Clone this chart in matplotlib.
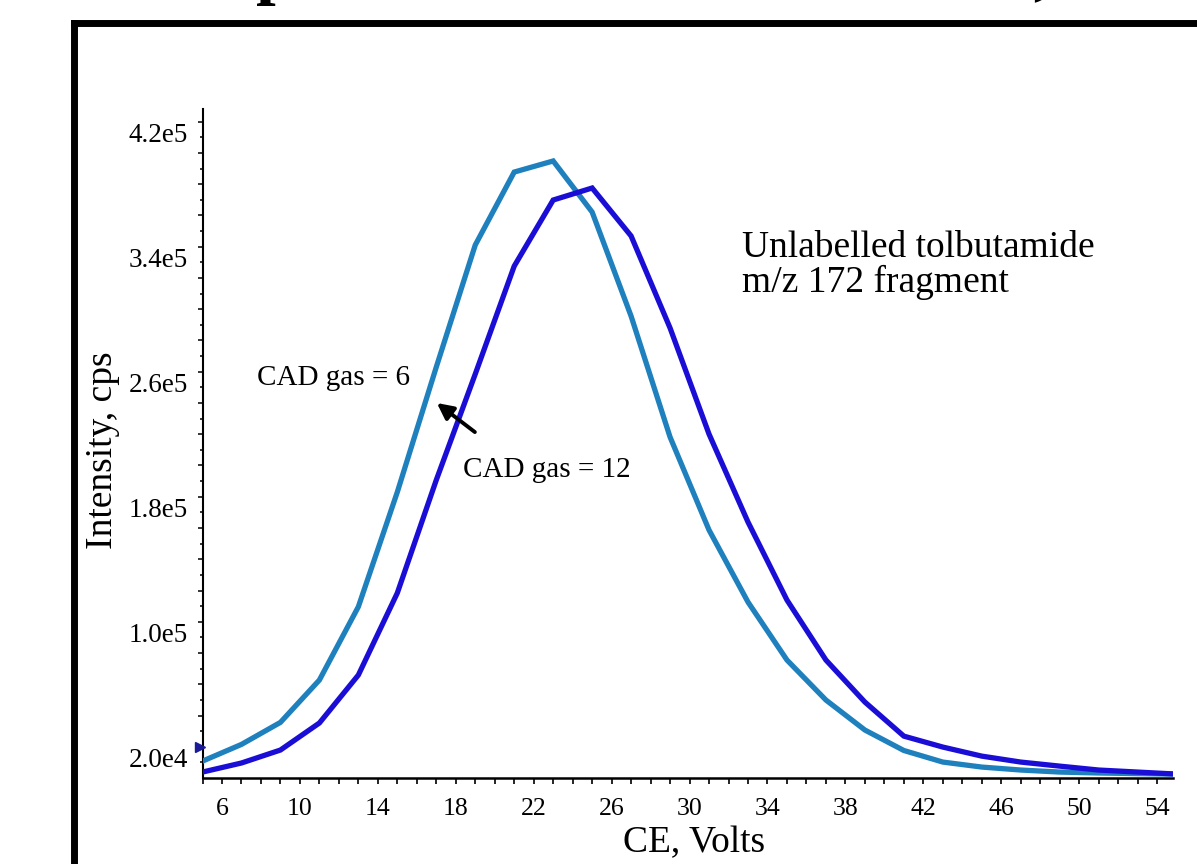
import numpy as np
import matplotlib
matplotlib.use('Agg')
import matplotlib.pyplot as plt
from matplotlib.transforms import ScaledTranslation
from matplotlib.lines import Line2D

# collision energy (V)
ce = [5, 7, 9, 11, 13, 15, 17, 19, 21, 23, 25, 27, 29,
      31, 33, 35, 37, 39, 41, 43, 45, 47, 49, 51, 53, 55]

# intensity (cps), CAD gas = 6
cad6 = [10800, 21500, 35600, 62700, 109600, 183000, 263000, 341100, 387800,
        394900, 362200, 295600, 218200, 158700, 112600, 75500, 49900, 30700,
        17600, 10200, 7000, 5100, 3800, 3200, 2800, 2500]

# intensity (cps), CAD gas = 12
cad12 = [3800, 9600, 17900, 35200, 65900, 118400, 190700, 258500, 327600,
         369900, 377600, 346900, 288000, 220100, 163800, 113900, 75500, 48600,
         26800, 19800, 14000, 10200, 7600, 5100, 3800, 2500]

y_tick_vals = [2.0e4, 1.0e5, 1.8e5, 2.6e5, 3.4e5, 4.2e5]
y_tick_text = ['2.0e4', '1.0e5', '1.8e5', '2.6e5', '3.4e5', '4.2e5']
x_tick_vals = [6, 10, 14, 18, 22, 26, 30, 34, 38, 42, 46, 50, 54]
marker_y = 2.0e4

plt.rcParams['font.family'] = ['Liberation Serif', 'DejaVu Serif']

W, H = 1197, 864
fig = plt.figure(figsize=(W / 100, H / 100), dpi=100)
left, right, top, bottom = 202.5, 1172.7, 109.25, 778.0
ax = fig.add_axes([left / W, 1 - bottom / H, (right - left) / W, (bottom - top) / H])

ax.plot(ce, cad6, color='#1f80be', lw=3.8, solid_joinstyle='miter', zorder=3)
ax.plot(ce, cad12, color='#1a0dd6', lw=3.8, solid_joinstyle='miter', zorder=3)

ax.set_xlim(5, 54.8)
ax.set_ylim(0, 4.28e5)

for s in ['top', 'right']:
    ax.spines[s].set_visible(False)
ax.spines['left'].set_linewidth(1.5)
ax.spines['bottom'].set_linewidth(1.8)

# x ticks
ax.set_xticks(x_tick_vals)
ax.set_xticks(np.arange(5, 55, 1), minor=True)
ax.tick_params(axis='x', which='both', direction='out', length=4.5, width=1.2,
               labelsize=18.5, pad=10)

# y ticks: long every 2e4, short every 1e4, labels only some
major_y = np.arange(2e4, 4.21e5, 2e4)
labels = []
for v in major_y:
    lab = ''
    for tv, tt in zip(y_tick_vals, y_tick_text):
        if abs(v - tv) < 1:
            lab = tt
    labels.append(lab)
ax.set_yticks(major_y, labels=labels)
ax.set_yticks(np.arange(1e4, 4.21e5, 2e4), minor=True)
ax.tick_params(axis='y', which='major', direction='out', length=3.6, width=1.1,
               labelsize=19.5, pad=7)
ax.tick_params(axis='y', which='minor', direction='out', length=2.4, width=1.1)

# labels sit a bit below their ticks in the original
offset = ScaledTranslation(0, -10.7 / 100, fig.dpi_scale_trans)
for lab in ax.yaxis.get_majorticklabels():
    lab.set_transform(lab.get_transform() + offset)

ax.set_xlabel('CE, Volts', fontsize=27)
ax.xaxis.set_label_coords(0.507, -0.071)
ax.set_ylabel('Intensity, cps', fontsize=27)
ax.yaxis.set_label_coords(-0.085, 0.49)

# small marker on the y axis
mk_off = ScaledTranslation(-3 / 100, 0, fig.dpi_scale_trans)
ax.plot([0], [marker_y], marker='>', markersize=7, color='#1a1a9a',
        transform=ax.get_yaxis_transform() + mk_off, clip_on=False, zorder=4)

ax.text(32.68, 333400, 'Unlabelled tolbutamide', fontsize=27, va='baseline')
ax.text(32.68, 311000, 'm/z 172 fragment', fontsize=27, va='baseline')
ax.text(7.80, 251500, 'CAD gas = 6', fontsize=21, va='baseline')
ax.text(18.37, 192800, 'CAD gas = 12', fontsize=21, va='baseline')
ax.annotate('', xy=(17.03, 240000), xytext=(18.98, 221400),
            arrowprops=dict(arrowstyle='-|>', lw=2.8, color='black',
                            mutation_scale=24, shrinkA=0, shrinkB=0))

# frame of the slide and cut off title
fig.add_artist(Line2D([74 / W, 74 / W], [0, 1 - 23 / H], color='black', lw=5,
                      solid_capstyle='projecting'))
fig.add_artist(Line2D([74 / W, 1.01], [1 - 23 / H, 1 - 23 / H], color='black', lw=5,
                      solid_capstyle='projecting'))
fig.text(255 / W, 1 + 9 / H, 'p', fontsize=51, fontweight='bold', va='baseline', ha='left')
fig.text(1033 / W, 1 + 9 / H, ',', fontsize=51, fontweight='bold', va='baseline', ha='left')

fig.savefig('out.png', dpi=100)
